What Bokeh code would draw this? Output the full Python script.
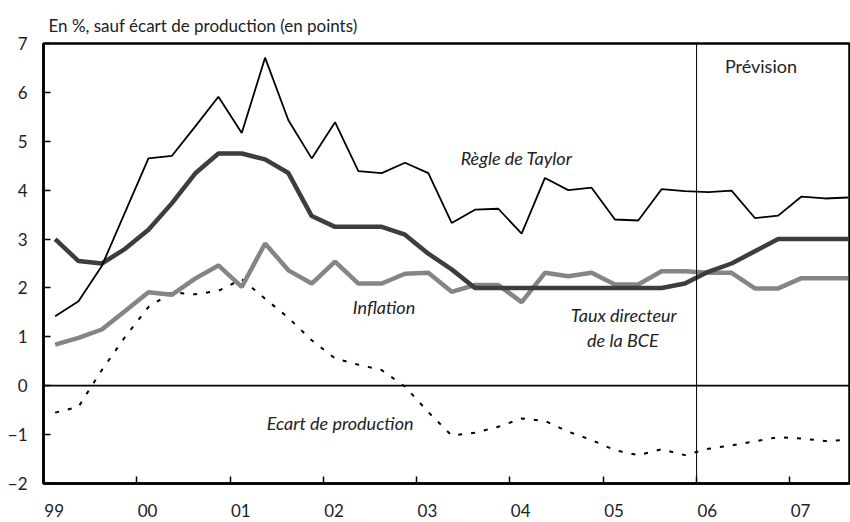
from bokeh.plotting import figure
from bokeh.models import Range1d, FixedTicker, Span, Label, Title
from bokeh.embed import file_html
from bokeh.resources import INLINE

# Quarterly data 1999Q1 .. 2007Q3
years = ["99", "00", "01", "02", "03", "04", "05", "06", "07"]
taylor = [1.42, 1.73, 2.45, 3.55, 4.65, 4.70, 5.30, 5.91, 5.17,
          6.71, 5.43, 4.65, 5.39, 4.39, 4.35, 4.56, 4.35, 3.33,
          3.60, 3.62, 3.11, 4.25, 4.00, 4.05, 3.40, 3.38, 4.02,
          3.98, 3.96, 3.99, 3.43, 3.48, 3.87, 3.83, 3.85]
policy = [3.00, 2.55, 2.50, 2.80, 3.19, 3.73, 4.34, 4.75, 4.75,
          4.63, 4.35, 3.47, 3.25, 3.25, 3.25, 3.09, 2.70, 2.38,
          2.00, 2.00, 2.00, 2.00, 2.00, 2.00, 2.00, 2.00, 2.00,
          2.09, 2.33, 2.50, 2.75, 3.00, 3.00, 3.00, 3.00]
inflation = [0.84, 0.98, 1.15, 1.53, 1.91, 1.86, 2.19, 2.46, 2.02,
             2.91, 2.36, 2.09, 2.54, 2.09, 2.09, 2.29, 2.31, 1.92,
             2.06, 2.06, 1.71, 2.31, 2.24, 2.31, 2.07, 2.07, 2.34,
             2.34, 2.31, 2.31, 1.99, 1.99, 2.20, 2.20, 2.20]
gap = [-0.55, -0.43, 0.32, 1.00, 1.61, 1.91, 1.87, 1.94, 2.18,
       1.78, 1.39, 0.93, 0.56, 0.43, 0.32, -0.02, -0.54, -1.02,
       -0.96, -0.84, -0.67, -0.72, -0.94, -1.11, -1.32, -1.42, -1.30,
       -1.42, -1.29, -1.22, -1.14, -1.05, -1.08, -1.13, -1.11]

x = [i * 0.25 + 0.125 for i in range(len(taylor))]
forecast_start = 7.0  # 2006
title_text = "En %, sauf écart de production (en points)"

FONT = "Lato"

p = figure(width=850, height=522, output_backend="svg", toolbar_location=None,
           x_range=Range1d(0, 8.65), y_range=Range1d(-2, 7),
           min_border_left=43, min_border_right=0, min_border_top=43,
           min_border_bottom=39)
# spacer title (closest to the frame), then the real title above it
p.add_layout(Title(text=" ", text_font_size="6px", standoff=0), "above")
p.add_layout(Title(text=title_text, align="left", offset=5,
                   text_font=FONT, text_font_size="17px", text_font_style="normal",
                   text_color="#222222", standoff=0), "above")

p.grid.visible = False
p.background_fill_color = "white"
p.border_fill_color = "white"
p.outline_line_color = "black"
p.outline_line_width = 2.5

# x axis
xa = p.xaxis[0]
xa.ticker = FixedTicker(ticks=[k + 0.115 for k in range(len(years))],
                        minor_ticks=list(range(1, len(years))))
xa.major_label_overrides = {k + 0.115: y for k, y in enumerate(years)}
xa.major_tick_in = 0
xa.major_tick_out = 0
xa.minor_tick_in = 7
xa.minor_tick_out = 0
xa.minor_tick_line_color = "black"
xa.minor_tick_line_width = 1.5
xa.axis_line_width = 2.5
xa.axis_line_color = "black"
xa.major_label_text_font = FONT
xa.major_label_text_font_size = "17px"
xa.major_label_text_color = "#222222"
xa.major_label_standoff = 20

# y axis
ya = p.yaxis[0]
ya.ticker = FixedTicker(ticks=list(range(-2, 8)))
ya.major_tick_in = 7
ya.major_tick_out = 0
ya.major_tick_line_width = 1.5
ya.minor_tick_line_color = None
ya.axis_line_width = 2.5
ya.axis_line_color = "black"
ya.major_label_text_font = FONT
ya.major_label_text_font_size = "17px"
ya.major_label_text_color = "#222222"
ya.major_label_standoff = 16

p.add_layout(Span(location=0, dimension="width", line_color="black", line_width=1.8))
p.add_layout(Span(location=forecast_start, dimension="height", line_color="black", line_width=1))

p.line(x, gap, line_color="black", line_width=2, line_dash="4 9")
p.line(x, inflation, line_color="#858585", line_width=4.5)
p.line(x, policy, line_color="#3d3d3d", line_width=4.5)
p.line(x, taylor, line_color="black", line_width=1.8)

labels = [
    ("Règle de Taylor", 5.07, 4.65, "italic"),
    ("Inflation", 3.65, 1.61, "italic"),
    ("Ecart de production", 3.18, -0.77, "italic"),
    ("Taux directeur", 6.22, 1.44, "italic"),
    ("de la BCE", 6.21, 0.93, "italic"),
    ("Prévision", 7.69, 6.55, "normal"),
]
for txt, lx, ly, style in labels:
    p.add_layout(Label(x=lx, y=ly, text=txt, text_align="center", text_baseline="middle",
                       text_font=FONT, text_font_size="18px", text_font_style=style,
                       text_color="#222222"))

open("out.html", "w").write(file_html(p, INLINE))
